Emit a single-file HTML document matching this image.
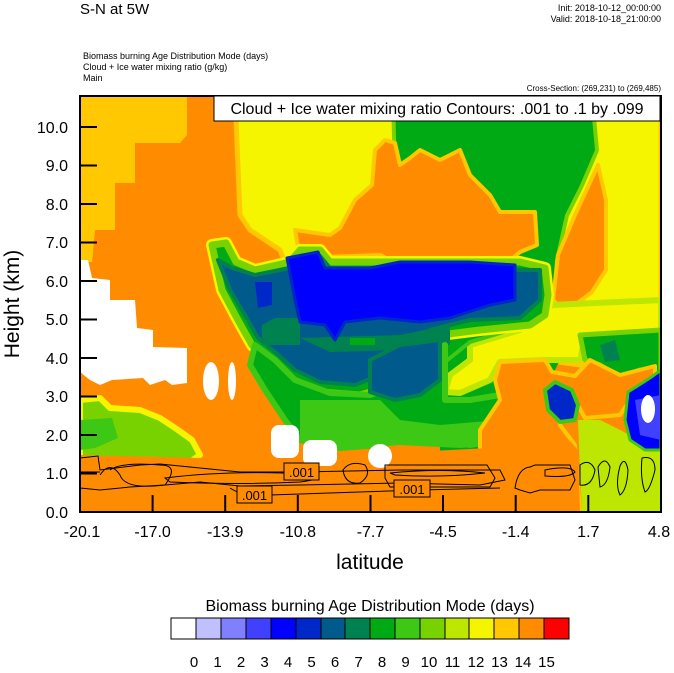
<!DOCTYPE html>
<html><head><meta charset="utf-8"><style>
body{margin:0;background:#fff;width:674px;height:668px;overflow:hidden}
svg text{font-family:"Liberation Sans",sans-serif}
</style></head><body>
<svg width="674" height="668" viewBox="0 0 674 668" xmlns="http://www.w3.org/2000/svg">
<defs><clipPath id="pc"><rect x="80" y="96" width="581" height="416"/></clipPath></defs>
<g clip-path="url(#pc)" stroke-linejoin="round">
<rect x="80" y="96" width="581" height="416" fill="#ff8c00"/>
<polygon points="80,96 187,96 187,135 180,143 135,143 135,183 115,183 115,230 95,230 92,262 80,262" fill="#ffc800"/>
<polygon points="235,96 661,96 661,360 600,362 580,365 545,360 500,360 480,330 300,300 280,250 250,230 240,215" fill="#f5f500" stroke="#ffc800" stroke-width="5"/>
<polygon points="395,96 590,96 595,150 580,185 565,215 555,260 550,330 440,330 400,300" fill="#00aa14" stroke="#78d200" stroke-width="8"/>
<polygon points="395,96 590,96 595,150 580,185 565,215 555,260 550,330 440,330 400,300" fill="#00aa14"/>
<polygon points="300,258 295,230 330,235 340,228 355,200 372,185 375,150 385,140 395,143 400,165 410,158 420,150 440,160 460,150 470,175 490,195 500,212 535,212 537,245 520,252 505,265 400,265 380,255" fill="#ff8c00" stroke="#ffc800" stroke-width="4"/>
<polygon points="553,300 558,255 575,215 598,165 606,200 606,270 592,292 566,312" fill="#ff8c00" stroke="#ffc800" stroke-width="4"/>
<polygon points="440,330 560,320 560,360 530,420 520,455 440,455" fill="#00aa14"/>
<polygon points="470,345 520,330 552,305 661,300 661,335 585,338 580,360 545,360 500,362 490,380 460,393 445,392 450,375 470,360" fill="#f5f500" stroke="#bde600" stroke-width="6"/>
<polygon points="440,298 548,296 546,316 510,330 470,342 445,362" fill="#00aa14" stroke="#3cc814" stroke-width="4"/>
<polygon points="212,245 226,243 236,262 255,270 290,262 300,250 320,250 330,262 370,262 400,262 480,262 520,262 545,268 548,295 545,315 530,325 480,330 440,335 415,360 395,385 360,395 320,392 290,378 270,360 252,345 238,320 222,290" fill="#00aa14" stroke="#f5f500" stroke-width="12"/>
<polygon points="212,245 226,243 236,262 255,270 290,262 300,250 320,250 330,262 370,262 400,262 480,262 520,262 545,268 548,295 545,315 530,325 480,330 440,335 415,360 395,385 360,395 320,392 290,378 270,360 252,345 238,320 222,290" fill="#00aa14" stroke="#78d200" stroke-width="7"/>
<polygon points="218,260 232,268 255,275 290,268 300,256 320,256 330,268 540,270 540,300 520,318 470,320 430,330 400,350 380,375 355,385 320,382 295,370 275,352 258,338 245,315 230,290" fill="#005a8c" stroke="#008250" stroke-width="4"/>
<polygon points="262,325 275,318 300,318 300,345 262,345" fill="#008250"/>
<polygon points="300,338 400,335 450,325 450,345 400,350 330,352" fill="#008250"/>
<polygon points="350,338 375,338 375,345 350,345" fill="#00aa14"/>
<polygon points="287,258 318,252 325,268 370,268 400,262 470,262 515,265 515,300 490,305 450,318 420,322 380,318 345,322 335,340 325,325 300,322 295,300" fill="#0000ff" stroke="#0028c8" stroke-width="3"/>
<polygon points="255,282 272,282 272,305 258,308" fill="#0028c8"/>
<polygon points="255,345 275,360 295,380 330,393 370,395 400,385 420,360 445,345 445,400 470,400 500,395 520,400 520,430 500,440 470,445 440,440 400,440 380,445 340,448 300,440 285,420 265,390 250,365" fill="#00aa14" stroke="#3cc814" stroke-width="6"/>
<polygon points="370,360 400,345 440,340 440,380 420,395 395,400 370,392" fill="#005a8c" stroke="#008250" stroke-width="4"/>
<polygon points="300,400 380,400 400,420 440,425 500,420 500,445 460,448 400,445 340,450 300,440" fill="#3cc814"/>
<polygon points="580,335 661,330 661,375 640,370 620,378 600,365 585,360" fill="#00aa14" stroke="#78d200" stroke-width="5"/>
<polygon points="600,345 615,340 620,360 605,362" fill="#008250"/>
<polygon points="500,362 545,360 552,372 575,376 590,360 620,375 655,366 655,382 630,400 620,415 585,418 575,400 560,410 560,425 575,445 580,512 480,512 480,430 500,400 495,380" fill="#ff8c00" stroke="#ffc800" stroke-width="4"/>
<polygon points="578,420 600,420 640,440 661,440 661,512 582,512 580,470" fill="#bde600"/>
<polygon points="545,390 555,382 572,390 578,405 575,420 560,422 548,410" fill="#0028c8" stroke="#3cc814" stroke-width="4"/>
<polygon points="628,392 650,378 661,370 661,450 645,450 630,440 625,420" fill="#0000ff" stroke="#3cc814" stroke-width="3"/>
<polygon points="635,400 661,395 661,440 640,435" fill="#4040ff"/>
<ellipse cx="648" cy="409" rx="7" ry="14" fill="#fff"/>
<polygon points="80,400 100,398 110,408 140,410 160,418 178,430 192,440 200,455 190,462 80,462" fill="#78d200" stroke="#f5f500" stroke-width="6"/>
<polygon points="80,420 112,418 118,438 95,448 80,450" fill="#3cc814"/>
<polygon points="80,455 200,458 270,455 350,455 450,450 490,448 500,440 560,430 578,450 580,512 80,512" fill="#ff8c00"/>
<polygon points="80,260 88,260 92,278 110,280 110,300 135,300 137,328 153,330 153,347 187,348 187,383 172,385 165,380 150,385 143,378 112,380 100,385 90,380 80,372" fill="#fff"/>
<ellipse cx="211" cy="381" rx="8" ry="19" fill="#fff"/>
<ellipse cx="232" cy="381" rx="4" ry="19" fill="#fff"/>
<rect x="271" y="425" width="28" height="33" rx="8" fill="#fff"/>
<rect x="303" y="440" width="34" height="26" rx="8" fill="#fff"/>
<ellipse cx="380" cy="456" rx="12" ry="12" fill="#fff"/>
</g>
<g fill="none" stroke="#000" stroke-width="1">
<path d="M80,458 L98,456 L100,470 L140,465 L160,464 L240,472 L300,472 L400,470 L500,470 L505,480 L480,485 L400,483 L300,485 L240,486 L200,482 L165,485 L130,487 L100,490 L80,488"/>
<path d="M80,472 L100,472 M100,475 Q110,460 120,475 Q125,490 165,485 Q180,465 160,465 Q120,462 110,470"/>
<path d="M165,478 Q230,470 310,474 Q330,478 300,482 Q240,485 170,482 Z"/>
<path d="M230,488 Q245,498 270,495 L420,490 L500,488"/>
<path d="M343,470 Q350,460 365,465 Q372,475 360,483 Q345,485 343,470 Z"/>
<path d="M385,465 L487,465 L495,478 L490,487 L390,487 L385,478 Z"/>
<path d="M390,473 Q440,468 485,473 Q440,478 395,475 Z"/>
<path d="M515,488 Q518,468 530,467 L535,465 L570,465 L575,480 L570,490 L540,490 L530,493 L520,490 Z"/>
<path d="M545,470 Q570,465 575,472 Q570,478 545,476 Z"/>
<path d="M580,465 Q590,458 595,470 Q592,487 580,485 Z"/>
<path d="M598,467 Q605,455 610,467 Q608,485 600,487 Z"/>
<path d="M620,466 Q625,455 628,470 Q627,490 620,495 Q615,485 620,466 Z"/>
<path d="M642,458 Q655,455 655,470 Q650,490 645,492 Q640,478 642,458 Z"/>
</g>
<g font-size="13" text-anchor="middle">
<rect x="237" y="486" width="35" height="17" fill="#ff8c00" stroke="#000"/><text x="254.5" y="500">.001</text>
<rect x="284" y="463" width="35" height="17" fill="#ff8c00" stroke="#000"/><text x="301.5" y="477">.001</text>
<rect x="394" y="480" width="36" height="17" fill="#ff8c00" stroke="#000"/><text x="412" y="494">.001</text>
</g>
<rect x="80" y="96" width="581" height="416" fill="none" stroke="#000" stroke-width="2"/>
<g stroke="#000" stroke-width="2">
<line x1="80" y1="473.5" x2="97" y2="473.5"/><line x1="80" y1="435" x2="97" y2="435"/><line x1="80" y1="396.5" x2="97" y2="396.5"/><line x1="80" y1="358" x2="97" y2="358"/><line x1="80" y1="319.5" x2="97" y2="319.5"/><line x1="80" y1="281" x2="97" y2="281"/><line x1="80" y1="242.5" x2="97" y2="242.5"/><line x1="80" y1="204" x2="97" y2="204"/><line x1="80" y1="165.5" x2="97" y2="165.5"/><line x1="80" y1="127" x2="97" y2="127"/>
<line x1="152.6" y1="512" x2="152.6" y2="495"/><line x1="225.2" y1="512" x2="225.2" y2="495"/><line x1="297.8" y1="512" x2="297.8" y2="495"/><line x1="370.5" y1="512" x2="370.5" y2="495"/><line x1="443" y1="512" x2="443" y2="495"/><line x1="515.7" y1="512" x2="515.7" y2="495"/><line x1="588.3" y1="512" x2="588.3" y2="495"/>
</g>
<g font-size="16" text-anchor="end">
<text x="68" y="518">0.0</text><text x="68" y="479">1.0</text><text x="68" y="441">2.0</text><text x="68" y="402">3.0</text><text x="68" y="364">4.0</text><text x="68" y="325">5.0</text><text x="68" y="287">6.0</text><text x="68" y="248">7.0</text><text x="68" y="210">8.0</text><text x="68" y="171">9.0</text><text x="68" y="133">10.0</text>
</g>
<g font-size="16" text-anchor="middle">
<text x="82" y="537">-20.1</text><text x="152.6" y="537">-17.0</text><text x="225.2" y="537">-13.9</text><text x="297.8" y="537">-10.8</text><text x="370.5" y="537">-7.7</text><text x="443" y="537">-4.5</text><text x="515.7" y="537">-1.4</text><text x="588.3" y="537">1.7</text><text x="659" y="537">4.8</text>
</g>
<text x="370" y="569" font-size="21" text-anchor="middle">latitude</text>
<text transform="translate(19,304) rotate(-90)" font-size="21" text-anchor="middle">Height (km)</text>
<rect x="214" y="96" width="446" height="25" fill="#fff" stroke="#000" stroke-width="1"/>
<text x="437" y="114" font-size="16" text-anchor="middle">Cloud + Ice water mixing ratio Contours: .001 to .1 by .099</text>
<text x="80" y="14" font-size="15">S-N at 5W</text>
<text x="661" y="11" font-size="9" text-anchor="end">Init: 2018-10-12_00:00:00</text>
<text x="661" y="22" font-size="9" text-anchor="end">Valid: 2018-10-18_21:00:00</text>
<text x="83" y="59" font-size="9">Biomass burning Age Distribution Mode   (days)</text>
<text x="83" y="70" font-size="9">Cloud + Ice water mixing ratio   (g/kg)</text>
<text x="83" y="81" font-size="9">Main</text>
<text x="661" y="91" font-size="8" text-anchor="end">Cross-Section: (269,231) to (269,485)</text>
<text x="370" y="611" font-size="16" text-anchor="middle">Biomass burning Age Distribution Mode  (days)</text>
<rect x="171" y="618" width="25" height="21" fill="#fff"/>
<rect x="196" y="618" width="25" height="21" fill="#c0c0ff"/>
<rect x="221" y="618" width="25" height="21" fill="#8080ff"/>
<rect x="246" y="618" width="25" height="21" fill="#4040ff"/>
<rect x="271" y="618" width="25" height="21" fill="#0000ff"/>
<rect x="296" y="618" width="25" height="21" fill="#0028c8"/>
<rect x="321" y="618" width="24" height="21" fill="#005a8c"/>
<rect x="345" y="618" width="25" height="21" fill="#008250"/>
<rect x="370" y="618" width="25" height="21" fill="#00aa14"/>
<rect x="395" y="618" width="25" height="21" fill="#3cc814"/>
<rect x="420" y="618" width="25" height="21" fill="#78d200"/>
<rect x="445" y="618" width="24" height="21" fill="#bde600"/>
<rect x="469" y="618" width="25" height="21" fill="#f5f500"/>
<rect x="494" y="618" width="25" height="21" fill="#ffc800"/>
<rect x="519" y="618" width="25" height="21" fill="#ff8c00"/>
<rect x="544" y="618" width="25" height="21" fill="#ff5000"/>
<rect x="544" y="618" width="25" height="21" fill="#ff0000"/>
<g stroke="#000" stroke-width="1">
<rect x="171" y="618" width="398" height="21" fill="none"/>
<path d="M196,618v21M221,618v21M246,618v21M271,618v21M296,618v21M321,618v21M345,618v21M370,618v21M395,618v21M420,618v21M445,618v21M469,618v21M494,618v21M519,618v21M544,618v21"/>
</g>
<g font-size="15" text-anchor="middle">
<text x="194" y="667">0</text><text x="217.5" y="667">1</text><text x="241" y="667">2</text><text x="264.5" y="667">3</text><text x="288" y="667">4</text><text x="311.5" y="667">5</text><text x="335" y="667">6</text><text x="358.5" y="667">7</text><text x="382" y="667">8</text><text x="405.5" y="667">9</text><text x="429" y="667">10</text><text x="452.5" y="667">11</text><text x="476" y="667">12</text><text x="499.5" y="667">13</text><text x="523" y="667">14</text><text x="546.5" y="667">15</text>
</g>
</svg>
</body></html>
